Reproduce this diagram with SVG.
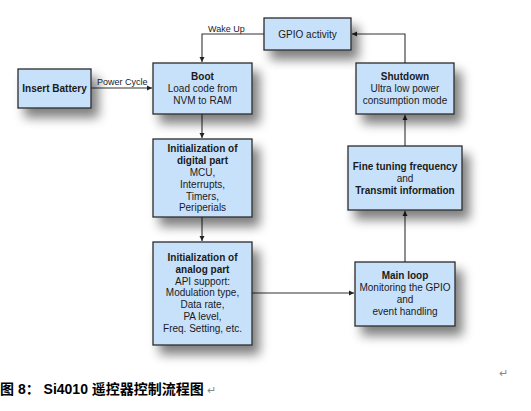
<svg xmlns="http://www.w3.org/2000/svg" width="531" height="411" viewBox="0 0 531 411">
<defs>
<filter id="sh" x="-40%" y="-40%" width="190%" height="200%">
<feGaussianBlur in="SourceAlpha" stdDeviation="5.5"/>
<feOffset dx="7" dy="9" result="b"/>
<feComponentTransfer><feFuncA type="linear" slope="0.5"/></feComponentTransfer>
<feMerge><feMergeNode/><feMergeNode in="SourceGraphic"/></feMerge>
</filter>
<marker id="ah" markerWidth="6" markerHeight="6" refX="5" refY="3" orient="auto" markerUnits="userSpaceOnUse">
<path d="M0,0.5 L5,3 L0,5.5 Z" fill="#222"/>
</marker>
</defs>
<style>
.box{fill:#c8e1fb;stroke:#2b2b2b;stroke-width:1.3;filter:url(#sh)}
text{font-family:"Liberation Sans",Arial,sans-serif;font-size:10px;fill:#1a1a1a;text-anchor:middle}
.b{font-weight:bold}
.lbl{font-size:9px;text-anchor:start}
.con{fill:none;stroke:#333;stroke-width:1.1;marker-end:url(#ah)}
.cap{font-family:"Liberation Sans","Noto Sans CJK SC",sans-serif;font-size:14px;font-weight:bold;text-anchor:start;fill:#000}
.ret{font-size:11px;fill:#888;text-anchor:start}
</style>
<rect width="531" height="411" fill="#fff"/>
<g id="connectors">
<path class="con" d="M91,88 H152"/>
<path class="con" d="M202,114 V138"/>
<path class="con" d="M202,217 V241"/>
<path class="con" d="M252,293 H354"/>
<path class="con" d="M405,262 V211"/>
<path class="con" d="M405,146 V115"/>
<path class="con" d="M405,63 V34 H352"/>
<path class="con" d="M264,34 H202 V62"/>
<text class="lbl" x="97" y="85">Power Cycle</text>
<text class="lbl" x="208" y="32">Wake Up</text>
</g>
<g id="insert-battery">
<rect class="box" x="18" y="69" width="73" height="39"/>
<text class="b" x="54.5" y="92">Insert Battery</text>
</g>
<g id="boot">
<rect class="box" x="153" y="63" width="99" height="51"/>
<text class="b" x="202.5" y="80">Boot</text>
<text x="202.5" y="92">Load code from</text>
<text x="202.5" y="104">NVM to RAM</text>
</g>
<g id="gpio-activity">
<rect class="box" x="264" y="18" width="87" height="32"/>
<text x="307.5" y="37.5">GPIO activity</text>
</g>
<g id="shutdown">
<rect class="box" x="356" y="63" width="98" height="51"/>
<text class="b" x="405" y="80">Shutdown</text>
<text x="405" y="92">Ultra low power</text>
<text x="405" y="104">consumption mode</text>
</g>
<g id="init-digital">
<rect class="box" x="153" y="139" width="99" height="78"/>
<text class="b" x="202.5" y="152">Initialization of</text>
<text class="b" x="202.5" y="164">digital part</text>
<text x="202.5" y="176">MCU,</text>
<text x="202.5" y="188">Interrupts,</text>
<text x="202.5" y="200">Timers,</text>
<text x="202.5" y="211">Periperials</text>
</g>
<g id="fine-tuning">
<rect class="box" x="348" y="146" width="114" height="64"/>
<text class="b" x="405" y="170">Fine tuning frequency</text>
<text x="405" y="182">and</text>
<text class="b" x="405" y="194">Transmit information</text>
</g>
<g id="init-analog">
<rect class="box" x="153" y="242" width="99" height="103"/>
<text class="b" x="202.5" y="261">Initialization of</text>
<text class="b" x="202.5" y="273">analog part</text>
<text x="202.5" y="285">API support:</text>
<text x="202.5" y="296">Modulation type,</text>
<text x="202.5" y="308">Data rate,</text>
<text x="202.5" y="320">PA level,</text>
<text x="202.5" y="332">Freq. Setting, etc.</text>
</g>
<g id="main-loop">
<rect class="box" x="355" y="262" width="100" height="64"/>
<text class="b" x="405" y="279">Main loop</text>
<text x="405" y="291">Monitoring the GPIO</text>
<text x="405" y="303">and</text>
<text x="405" y="315">event handling</text>
</g>
<text class="ret" x="499" y="377">↵</text>
<text class="cap" x="0" y="394">图 8： Si4010 遥控器控制流程图</text>
<text class="ret" x="207" y="394">↵</text>
</svg>
